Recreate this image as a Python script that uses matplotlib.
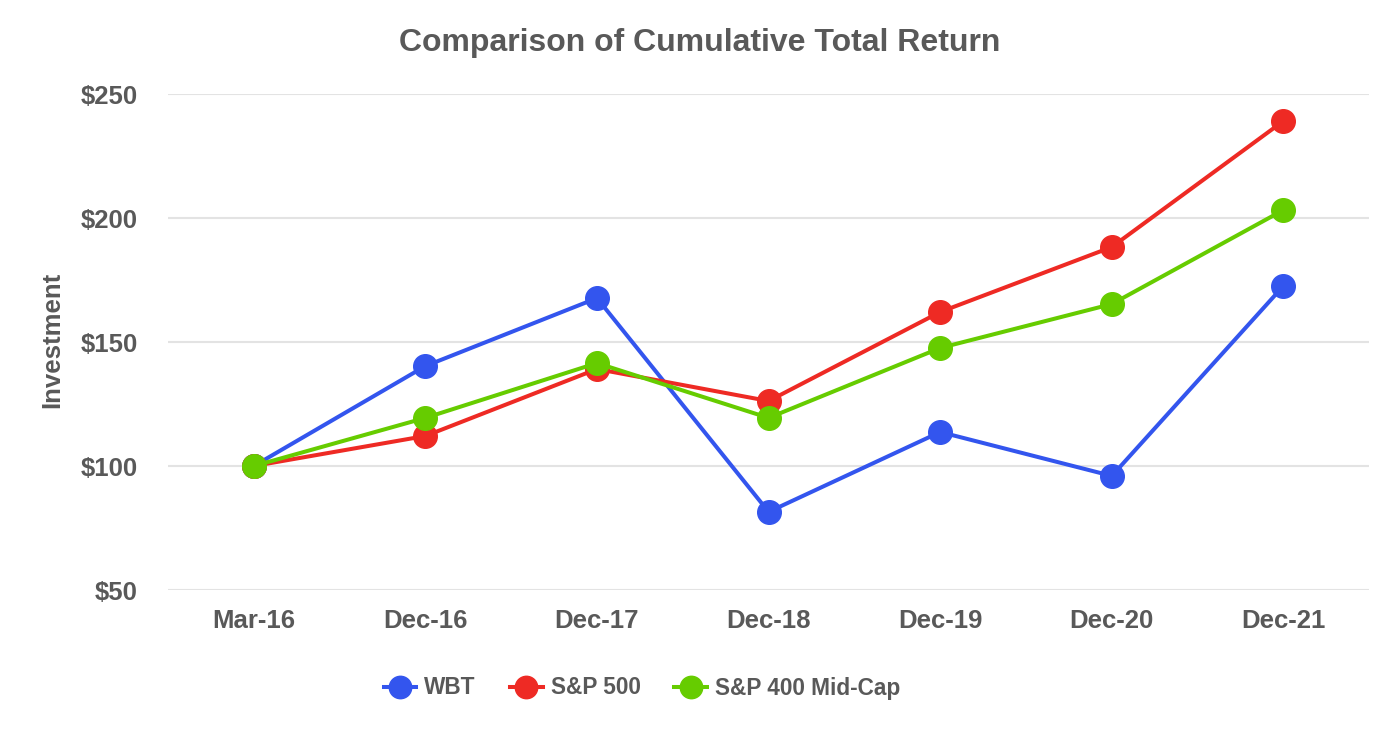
import matplotlib
matplotlib.use("Agg")
import matplotlib.pyplot as plt

categories = ["Mar-16", "Dec-16", "Dec-17", "Dec-18", "Dec-19", "Dec-20", "Dec-21"]
wbt = [100, 140.3, 167.7, 81.5, 113.7, 96.0, 172.6]
sp500 = [100, 112.1, 139.1, 126.2, 162.1, 188.3, 239.1]
sp400 = [100, 119.4, 141.5, 119.4, 147.6, 165.3, 203.2]
yticks = [50, 100, 150, 200, 250]

plt.rcParams['font.family'] = ['Liberation Sans', 'DejaVu Sans']
plt.rcParams['font.weight'] = 'bold'
txt = '#595959'

fig = plt.figure(figsize=(14, 7.4), dpi=100)
ax = fig.add_axes([0.12, 1 - 590 / 740, 0.858, (590 - 94) / 740])

x = list(range(len(categories)))
series = [("WBT", wbt, '#3355ee'), ("S&P 500", sp500, '#ee2a24'), ("S&P 400 Mid-Cap", sp400, '#66cc00')]
for name, vals, col in series:
    ax.plot(x, vals, color=col, lw=2.9, marker='o', markersize=17, label=name, zorder=3)

ax.set_xlim(-0.5, 6.5)
ax.set_ylim(50, 250)
ax.set_yticks(yticks)
ax.set_yticklabels([f"${v}" for v in yticks])
ax.set_xticks(x)
ax.set_xticklabels(categories)
ax.grid(axis='y', color='#e3e3e3', lw=1.5)
ax.set_axisbelow(True)
for s in ax.spines.values():
    s.set_visible(False)
ax.tick_params(length=0, labelsize=18.5, labelcolor=txt)
ax.tick_params(axis='x', pad=14)
ax.tick_params(axis='y', pad=22)
fig.text(52 / 1400, 1 - 340 / 740, "Investment", rotation=90, ha='center', va='center',
         fontsize=18.5, color=txt, fontweight='bold')
fig.text(0.5, 1 - 43 / 740, "Comparison of Cumulative Total Return", ha='center', va='center',
         fontsize=23, color=txt, fontweight='bold')
leg = fig.legend(loc='center', bbox_to_anchor=(642 / 1400, 1 - 688 / 740), ncol=3, frameon=False,
                 fontsize=16.3, labelcolor=txt, handlelength=1.45, columnspacing=1.5,
                 handletextpad=0.35, markerscale=0.95)
fig.savefig("out.png", dpi=100, facecolor='white')
